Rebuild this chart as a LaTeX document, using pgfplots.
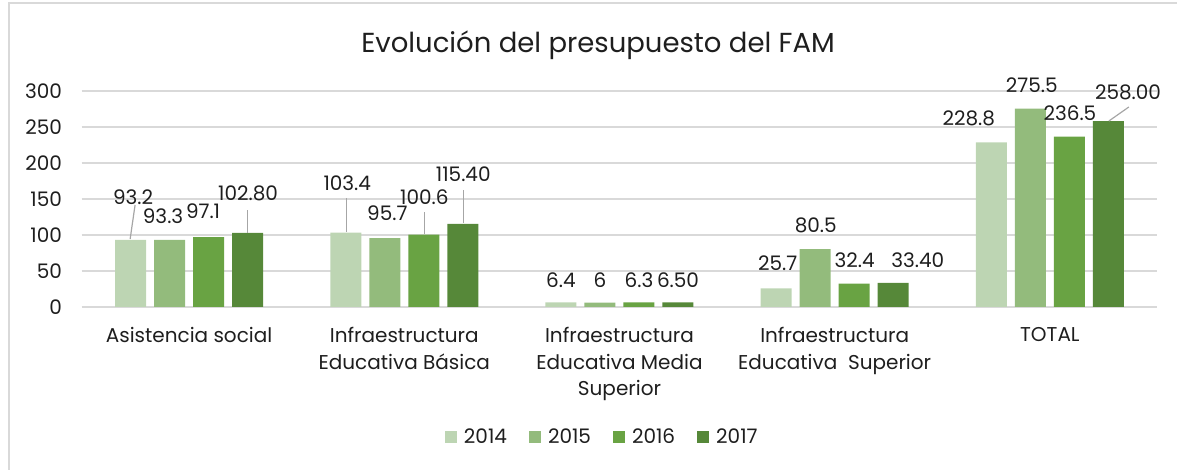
\documentclass[border=0pt]{standalone}
\usepackage{fontspec}
\setmainfont{Poppins}
\usepackage{pgfplots}
\pgfplotsset{compat=1.18}

\definecolor{c14}{HTML}{BDD5B3}
\definecolor{c15}{HTML}{93BB7C}
\definecolor{c16}{HTML}{69A343}
\definecolor{c17}{HTML}{568839}
\definecolor{gridc}{HTML}{D9D9D9}
\definecolor{leadc}{HTML}{A6A6A6}
\definecolor{txt}{HTML}{1E1E1E}

\begin{document}
\begin{tikzpicture}
\path[use as bounding box] (0,0) rectangle (1177pt,470pt);
\draw[gridc, line width=1.5pt] (9pt,0) -- (9pt,467pt) -- (1177pt,467pt);
\node[txt, font=\fontsize{27.5}{32}\selectfont] at (598pt,425pt) {Evolución del presupuesto del FAM};

\begin{axis}[
    at={(81.5pt,163pt)}, anchor=south west,
    width=1076pt, height=216pt, scale only axis,
    clip=false,
    ybar=8pt, bar width=31pt,
    xmin=-0.5, xmax=4.5,
    ymin=0, ymax=300,
    ytick={0,50,...,300},
    xtick={0,1,2,3,4},
    xticklabels={Asistencia social,{Infraestructura\\Educativa Básica},{Infraestructura\\Educativa Media\\Superior},{Infraestructura\\Educativa\ \ Superior},TOTAL},
    xticklabel style={align=center, anchor=north, yshift=-17pt, text=txt,
        font=\fontsize{20}{26.5}\selectfont},
    yticklabel style={anchor=east, xshift=-16pt, text=txt,
        font=\fontsize{20}{24}\selectfont},
    /pgf/number format/assume math mode=true,
    axis line style={draw=none},
    major tick length=0pt,
    ymajorgrids,
    grid style={gridc, line width=1.5pt},
    legend columns=4,
    legend style={at={(0.484,-0.602)}, anchor=center, draw=none,
        font=\fontsize{20}{24}\selectfont, text=txt,
        /tikz/every even column/.append style={column sep=20pt},
        /tikz/every odd column/.append style={column sep=5pt}},
    legend image code/.code={\fill[#1] (0pt,-6pt) rectangle (12pt,6pt);},
]
\addplot[fill=c14, draw=none] coordinates {(0,93.2) (1,103.4) (2,6.4) (3,25.7) (4,228.8)};
\addplot[fill=c15, draw=none] coordinates {(0,93.3) (1,95.7) (2,6) (3,80.5) (4,275.5)};
\addplot[fill=c16, draw=none] coordinates {(0,97.1) (1,100.6) (2,6.3) (3,32.4) (4,236.5)};
\addplot[fill=c17, draw=none] coordinates {(0,102.8) (1,115.4) (2,6.5) (3,33.4) (4,258)};
\legend{2014,2015,2016,2017}

% leader lines
\draw[leadc, line width=1.2pt] (axis cs:-0.251,141.7) -- (axis cs:-0.274,94.4);
\draw[leadc, line width=1.2pt] (axis cs:0.270,134.7) -- (axis cs:0.270,102.8);
\draw[leadc, line width=1.2pt] (axis cs:0.730,151.4) -- (axis cs:0.730,104);
\draw[leadc, line width=1.2pt] (axis cs:1.093,131.9) -- (axis cs:1.093,101.4);
\draw[leadc, line width=1.2pt] (axis cs:1.274,162.5) -- (axis cs:1.274,116.7);
\draw[leadc, line width=1.2pt] (axis cs:4.367,277.8) -- (axis cs:4.274,258.3);

% data labels
\begin{scope}[every node/.style={text=txt, font=\fontsize{20}{24}\selectfont}]
\node at (axis cs:-0.260,152.8) {93.2};
\node at (axis cs:-0.121,126.4) {93.3};
\node at (axis cs:0.065,133.3) {97.1};
\node at (axis cs:0.274,158.3) {102.80};
\node at (axis cs:0.735,172.2) {103.4};
\node at (axis cs:0.921,130.6) {95.7};
\node at (axis cs:1.093,152.8) {100.6};
\node at (axis cs:1.274,184.7) {115.40};
\node at (axis cs:1.728,37.5) {6.4};
\node at (axis cs:1.909,37.5) {6};
\node at (axis cs:2.091,37.5) {6.3};
\node at (axis cs:2.272,37.5) {6.50};
\node at (axis cs:2.735,61.1) {25.7};
\node at (axis cs:2.912,113.9) {80.5};
\node at (axis cs:3.093,65.3) {32.4};
\node at (axis cs:3.386,65.3) {33.40};
\node at (axis cs:3.623,262.5) {228.8};
\node at (axis cs:3.916,308.3) {275.5};
\node at (axis cs:4.093,269.4) {236.5};
\node at (axis cs:4.363,298.6) {258.00};
\end{scope}
\end{axis}
\end{tikzpicture}
\end{document}
